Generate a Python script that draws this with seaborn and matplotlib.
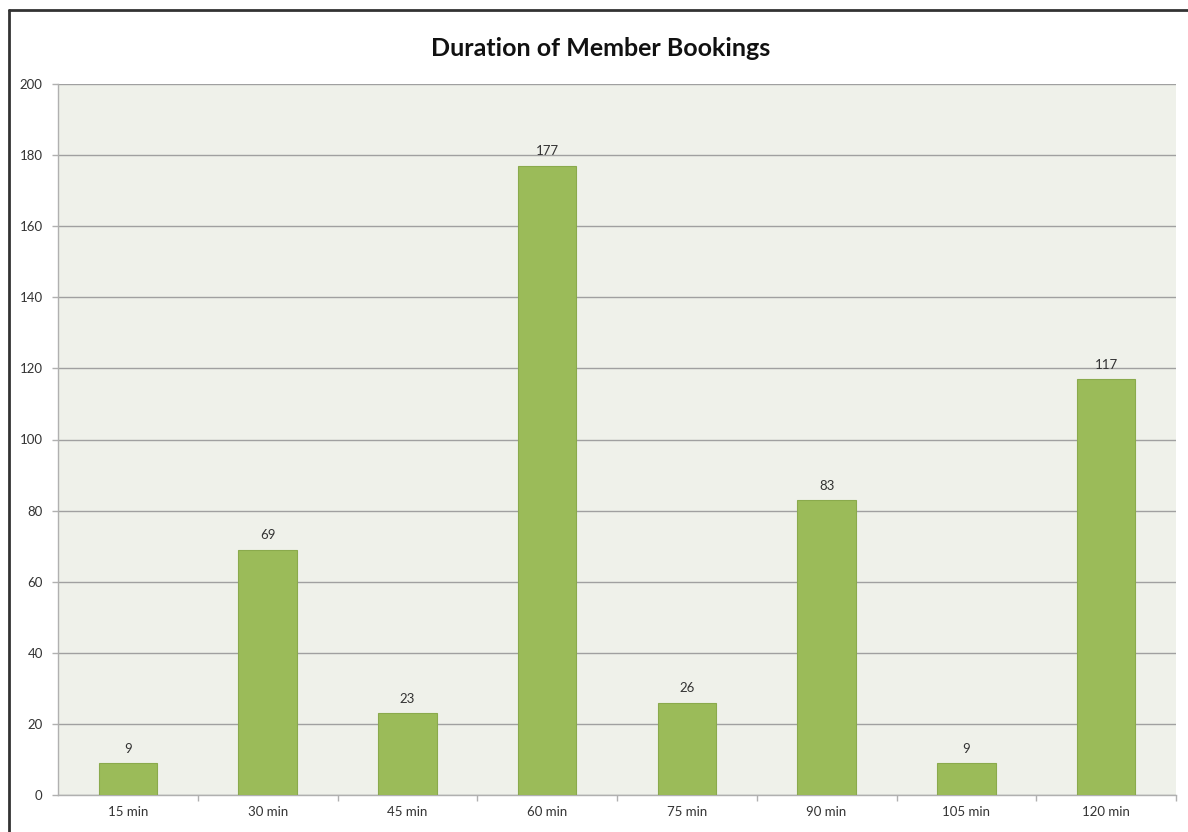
import matplotlib
matplotlib.use("Agg")
import matplotlib.pyplot as plt
from matplotlib.lines import Line2D
import seaborn as sns
import pandas as pd
import numpy as np

categories = ["15 min", "30 min", "45 min", "60 min", "75 min", "90 min", "105 min", "120 min"]
values = [9, 69, 23, 177, 26, 83, 9, 117]
y_ticks = [0, 20, 40, 60, 80, 100, 120, 140, 160, 180, 200]
title = "Duration of Member Bookings"

sns.set_theme(style="white")
plt.rcParams["font.family"] = ["Lato", "DejaVu Sans"]

df = pd.DataFrame({"duration": categories, "count": values})

fig = plt.figure(figsize=(11.88, 8.32), dpi=100)
fig.patch.set_facecolor("white")
ax = fig.add_axes([58/1188, 1-795/832, (1176-58)/1188, (795-84)/832])
ax.set_facecolor("#EFF1EA")

sns.barplot(data=df, x="duration", y="count", color="#9BBB59", width=0.42,
            edgecolor="#8AAA4C", linewidth=0.8, saturation=1, ax=ax, zorder=3)

ax.set_ylim(0, 200)
ax.set_xlim(-0.5, len(categories) - 0.5)
ax.set_yticks(y_ticks)
ax.set_yticklabels([str(t) for t in y_ticks])
ax.yaxis.grid(True, color="#A0A0A0", linewidth=1.0, zorder=0)
ax.set_axisbelow(True)
ax.set_xlabel("")
ax.set_ylabel("")

for s in ["top", "right"]:
    ax.spines[s].set_visible(False)
for s in ["left", "bottom"]:
    ax.spines[s].set_color("#B0B0B0")
    ax.spines[s].set_linewidth(1.0)

ax.tick_params(axis="y", which="major", length=4, width=1, color="#B0B0B0",
               labelsize=9.5, labelcolor="#333333", pad=7, left=True)
ax.tick_params(axis="x", which="major", length=0, labelsize=9.5,
               labelcolor="#333333", pad=8)
ax.set_xticks(np.arange(len(categories)) + 0.5, minor=True)
ax.tick_params(axis="x", which="minor", length=4, width=1, color="#B0B0B0", bottom=True)

for i, v in enumerate(values):
    ax.annotate(str(v), (i, v), xytext=(0, 6), textcoords="offset points",
                ha="center", va="bottom", fontsize=9.5, color="#333333")

fig.text(601/1188, 1-48/832, title, ha="center", va="center",
         fontsize=18, fontweight="bold", color="#111111")

# chart border (left and top)
fig.add_artist(Line2D([9/1188, 9/1188], [0, 1-10/832], transform=fig.transFigure,
                      color="#333333", linewidth=2))
fig.add_artist(Line2D([9/1188, 1], [1-10/832, 1-10/832], transform=fig.transFigure,
                      color="#333333", linewidth=2))

fig.savefig("out.png", dpi=100)
